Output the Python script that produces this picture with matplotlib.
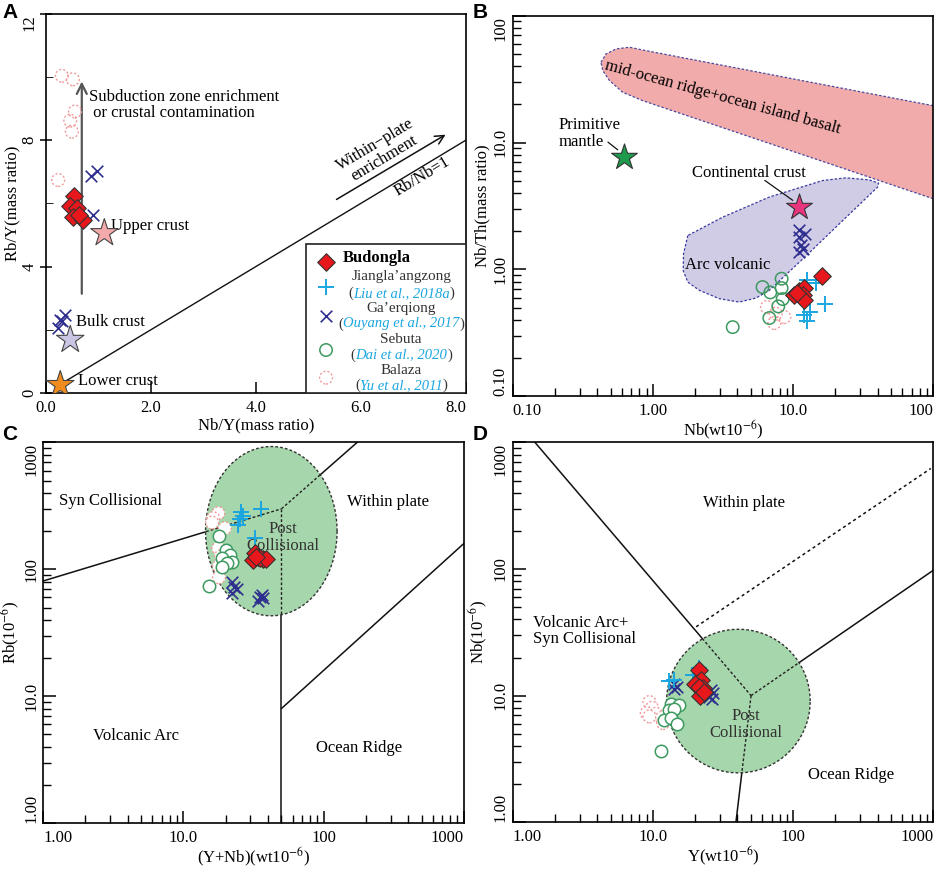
import matplotlib
matplotlib.use('Agg')
import matplotlib.pyplot as plt
from matplotlib.patches import Polygon, Rectangle
from matplotlib.ticker import NullFormatter
import numpy as np

plt.rcParams['font.family'] = 'Liberation Serif'
plt.rcParams['mathtext.fontset'] = 'stix'
plt.rcParams['axes.linewidth'] = 1.2

RED = '#e8171b'
CYAN = '#1aa6e0'
NAVY = '#2e2e8f'
GREEN = '#3d9960'
PINK = '#f09a9a'
FS = 12
TS = 12

# ---- A: Nb/Y vs Rb/Y
a_bud_x = [0.54, 0.46, 0.58, 0.51, 0.71, 0.63]
a_bud_y = [6.22, 5.92, 5.85, 5.56, 5.46, 5.64]
a_gae_x = [0.86, 0.97, 0.90, 0.23, 0.30, 0.36, 0.27]
a_gae_y = [6.87, 7.01, 5.64, 2.05, 2.26, 2.47, 2.31]
a_bal_x = [0.30, 0.51, 0.55, 0.46, 0.49, 0.23]
a_bal_y = [10.04, 9.93, 8.91, 8.62, 8.27, 6.74]
a_star_x = [1.11, 0.46, 0.27]
a_star_y = [5.06, 1.68, 0.25]
a_star_colors = ['#f4a9ab', '#c9c5e2', '#f08c1e']
a_rbnb_x = [0.25, 8.0]
a_rbnb_y = [0.25, 8.0]

# ---- B: Nb vs Nb/Th
b_bud_x = [16.0, 10.2, 11.0, 12.0, 11.7, 12.0, 10.7]
b_bud_y = [0.88, 0.624, 0.675, 0.717, 0.624, 0.570, 0.651]
b_jia_x = [12.6, 14.5, 16.9, 12.0, 13.2, 12.6]
b_jia_y = [0.829, 0.780, 0.537, 0.434, 0.462, 0.392]
b_gae_x = [11.0, 12.2, 11.0, 11.4, 11.0, 11.8]
b_gae_y = [2.03, 1.91, 1.80, 1.55, 1.37, 1.45]
b_seb_x = [6.04, 6.86, 8.26, 8.26, 8.40, 7.82, 6.75, 3.70]
b_seb_y = [0.726, 0.659, 0.845, 0.713, 0.584, 0.511, 0.414, 0.351]
b_bal_x = [6.49, 8.63, 7.33, 7.5]
b_bal_y = [0.505, 0.421, 0.378, 0.448]
b_pm = (0.625, 7.67)
b_cc = (11.0, 3.10)
b_morb_x = [0.425, 0.462, 0.545, 0.677, 0.891, 100, 100, 0.843, 0.608, 0.489, 0.438]
b_morb_y = [42.9, 49.9, 54.7, 56.4, 53.0, 19.5, 3.6, 21.4, 24.9, 30.8, 36.9]
b_arc_x = [1.77, 1.65, 1.64, 1.77, 2.14, 2.97, 4.12, 5.42, 6.75, 11.7, 20.1, 39.9,
           40.6, 34.8, 23.7, 16.2, 6.75, 3.13]
b_arc_y = [1.85, 1.33, 0.98, 0.794, 0.684, 0.588, 0.553, 0.595, 0.684, 1.21, 2.15, 4.45,
           4.79, 5.08, 5.27, 5.02, 3.72, 2.58]

# ---- C: (Y+Nb) vs Rb
c_bud_x = [32.2, 34.0, 37.0, 31.4, 35.0, 39.0, 32.8]
c_bud_y = [134, 126, 120, 118.6, 122, 120, 124]
c_jia_x = [25.9, 26.6, 25.5, 24.5, 36.0, 32.2]
c_jia_y = [285, 261, 248, 224, 298, 176]
c_gae_x = [22.2, 24.1, 22.0, 23.0, 35.0, 37.0, 34.0, 36.3]
c_gae_y = [80, 69.5, 64.6, 73, 60.8, 59.0, 56.6, 62.7]
c_seb_x = [17.9, 20.0, 21.4, 18.7, 22.2, 20.5, 18.9, 15.2]
c_seb_y = [183, 142, 130, 122, 115, 112, 105, 73.9]
c_bal_x = [17.7, 16.3, 16.0, 19.7, 17.7, 18.5, 17.9, 17.9]
c_bal_y = [277, 253, 234, 211, 146.5, 127, 106, 86.5]
c_lines = [([1, 50], [81, 300]), ([50, 173], [300, 1000]),
           ([50, 50], [300, 1]), ([50, 1000], [8, 160])]
c_post = (42.3, 200, 0.469, 0.667)   # centre x, centre y, half-widths in decades

# ---- D: Y vs Nb
d_bud_x = [21.4, 22.0, 20.0, 22.6, 21.6, 21.2, 23.2]
d_bud_y = [15.8, 13.2, 12.4, 11.5, 10.0, 11.8, 10.7]
d_jia_x = [13.1, 14.2, 21.2, 19.4]
d_jia_y = [13.0, 13.2, 16.6, 14.5]
d_gae_x = [14.0, 14.7, 14.2, 25.9, 26.6, 25.2, 26.3]
d_gae_y = [12.4, 11.7, 11.3, 11.1, 10.4, 9.75, 9.45]
d_seb_x = [13.4, 15.2, 12.9, 14.0, 12.0, 13.4, 14.8, 11.4]
d_seb_y = [8.53, 8.37, 7.73, 7.87, 6.45, 6.69, 6.0, 3.64]
d_bal_x = [9.42, 9.84, 9.02, 10.5, 9.42, 11.6, 11.8]
d_bal_y = [8.9, 8.02, 7.28, 7.19, 6.85, 6.69, 6.07]
d_lines = [([1.44, 50], [1000, 10]), ([50, 39], [10, 1]), ([50, 1000], [10, 98])]
d_dotted = ([20.3, 957], [35, 623])
d_post = (40.6, 9.06, 0.512, 0.567)


def draw_samples(ax, bud=None, jia=None, gae=None, seb=None, bal=None, face='none'):
    h = {}
    if bal:
        h['bal'] = ax.scatter(bal[0], bal[1], s=85, marker='o', facecolors=face,
                              edgecolors=PINK, linewidths=1.0, linestyles=(0, (1.5, 1.5)), zorder=5)
    if seb:
        h['seb'] = ax.scatter(seb[0], seb[1], s=80, marker='o', facecolors=face,
                              edgecolors=GREEN, linewidths=1.1, zorder=5)
    if gae:
        h['gae'] = ax.scatter(gae[0], gae[1], s=70, marker='x', color=NAVY, linewidths=1.2, zorder=6)
    if jia:
        h['jia'] = ax.scatter(jia[0], jia[1], s=120, marker='+', color=CYAN, linewidths=1.4, zorder=6)
    if bud:
        h['bud'] = ax.scatter(bud[0], bud[1], s=80, marker='D', facecolors=RED,
                              edgecolors='#333333', linewidths=0.8, zorder=7)
    return h


def log_axes(ax, ticks, labels):
    ax.set_xscale('log')
    ax.set_yscale('log')
    ax.set_xlim(ticks[0], ticks[-1])
    ax.set_ylim(ticks[0], ticks[-1])
    ax.set_xticks(ticks)
    xl = ax.set_xticklabels(labels)
    xl[0].set_ha('left')
    xl[-1].set_ha('right')
    ax.set_yticks(ticks)
    yl = ax.set_yticklabels(labels, rotation=90, va='center')
    yl[0].set_va('bottom')
    yl[-1].set_va('top')
    ax.xaxis.set_minor_formatter(NullFormatter())
    ax.yaxis.set_minor_formatter(NullFormatter())
    ax.tick_params(which='both', direction='in', top=False, right=False, labelsize=TS)
    ax.tick_params(which='major', length=9, width=1.1)
    ax.tick_params(which='minor', length=6, width=1.0)
    ax.tick_params(axis='x', which='major', pad=5)
    ax.tick_params(axis='y', which='major', pad=3)


def log_ellipse(ax, cx, cy, hx, hy):
    t = np.linspace(0, 2 * np.pi, 300)
    pts = np.column_stack([cx * 10 ** (hx * np.cos(t)), cy * 10 ** (hy * np.sin(t))])
    p = Polygon(pts, closed=True, facecolor='#a6d6ab', edgecolor='#333333',
                lw=1.0, linestyle=(0, (2, 1.5)), zorder=2)
    ax.add_patch(p)
    return p


fig = plt.figure(figsize=(9.41, 8.71), dpi=100)
axA = fig.add_axes([0.049, 0.549, 0.446, 0.435])
axB = fig.add_axes([0.545, 0.545, 0.447, 0.437])
axC = fig.add_axes([0.046, 0.055, 0.447, 0.437])
axD = fig.add_axes([0.545, 0.056, 0.447, 0.436])

# ================= A
ax = axA
ax.set_xlim(0, 8)
ax.set_ylim(0, 12)
ax.set_xticks([0, 2, 4, 6, 8])
xl = ax.set_xticklabels(['0.0', '2.0', '4.0', '6.0', '8.0'])
xl[-1].set_ha('right')
ax.set_yticks([0, 4, 8, 12])
yl = ax.set_yticklabels(['0', '4', '8', '12'], rotation=90, va='center')
yl[-1].set_va('top')
ax.set_yticks([2, 6, 10], minor=True)
ax.tick_params(which='both', top=False, right=False, labelsize=TS)
ax.tick_params(axis='y', which='major', direction='inout', length=8, width=1.1, pad=2)
ax.tick_params(axis='y', which='minor', direction='in', length=5)
ax.tick_params(axis='x', direction='in', length=8, width=1.1, pad=5)
ax.set_xlabel('Nb/Y(mass ratio)', fontsize=FS, labelpad=1)
ax.set_ylabel('Rb/Y(mass ratio)', fontsize=FS, labelpad=1)

ax.plot(a_rbnb_x, a_rbnb_y, color='#111111', lw=1.0, zorder=2)
ax.annotate('', xy=(0.68, 9.95), xytext=(0.68, 3.05),
            arrowprops=dict(arrowstyle='->', color='#555555', lw=1.6, mutation_scale=18), zorder=3)
ax.text(0.82, 9.1, 'Subduction zone enrichment\n or crustal contamination', fontsize=FS,
        va='center', ha='left', linespacing=1.0)
ax.annotate('', xy=(7.66, 8.22), xytext=(5.49, 6.08),
            arrowprops=dict(arrowstyle='->', color='#111111', lw=1.1, mutation_scale=16))
ax.text(6.36, 7.64, 'Within\u2212plate\nenrichment', fontsize=FS, rotation=31,
        rotation_mode='anchor', ha='center', va='center', linespacing=1.0)
ax.text(7.16, 6.85, 'Rb/Nb=1', fontsize=FS, rotation=31, rotation_mode='anchor',
        ha='center', va='center')

ax.scatter(a_star_x, a_star_y, s=430, marker='*', c=a_star_colors, edgecolors='#444444',
           linewidths=0.8, zorder=4)
ax.text(1.24, 5.27, 'Upper crust', fontsize=FS, va='center')
ax.text(0.57, 2.23, 'Bulk crust', fontsize=FS, va='center')
ax.text(0.60, 0.38, 'Lower crust', fontsize=FS, va='center')
draw_samples(ax, bud=(a_bud_x, a_bud_y), gae=(a_gae_x, a_gae_y), bal=(a_bal_x, a_bal_y))

# legend built by hand (mixed colours in one entry)
ax.add_patch(Rectangle((0.619, 0), 0.381, 0.392, transform=ax.transAxes, facecolor='white',
                       edgecolor='#222222', lw=1.2, zorder=8))
leg_names = ['Budongla', 'Jiangla\u2019angzong', 'Ga\u2019erqiong', 'Sebuta', 'Balaza']
leg_refs = [None, 'Liu et al., 2018a', 'Ouyang et al., 2017', 'Dai et al., 2020', 'Yu et al., 2011']
leg_marker_y = [0.346, 0.280, 0.203, 0.113, 0.040]
leg_name_y = [0.356, 0.306, 0.222, 0.140, 0.058]
leg_ref_y = [None, 0.262, 0.182, 0.100, 0.019]
leg_styles = [dict(marker='D', s=80, facecolors=RED, edgecolors='#333333', linewidths=0.8),
              dict(marker='+', s=120, color=CYAN, linewidths=1.4),
              dict(marker='x', s=70, color=NAVY, linewidths=1.2),
              dict(marker='o', s=80, facecolors='none', edgecolors=GREEN, linewidths=1.1),
              dict(marker='o', s=85, facecolors='none', edgecolors=PINK, linewidths=1.0,
                   linestyles=(0, (1.5, 1.5)))]
LS = 11
RS = 10.5
for name, ref, my, ny, ry, st in zip(leg_names, leg_refs, leg_marker_y, leg_name_y, leg_ref_y, leg_styles):
    ax.scatter([0.667], [my], transform=ax.transAxes, zorder=9, clip_on=False, **st)
    if ref is None:
        ax.text(0.707, ny, name, transform=ax.transAxes, fontsize=FS, fontweight='bold',
                va='center', ha='left', zorder=9)
        continue
    ax.text(0.846, ny, name, transform=ax.transAxes, fontsize=LS, color='#333333',
            va='center', ha='center', zorder=9)
    t = ax.text(0.846, ry, ref, transform=ax.transAxes, fontsize=RS, color=CYAN,
                style='italic', va='center', ha='center', zorder=9)
    ax.annotate('(', xy=(0, 0.5), xycoords=t, ha='right', va='center', fontsize=RS,
                color='#333333', zorder=9)
    ax.annotate(')', xy=(1, 0.5), xycoords=t, ha='left', va='center', fontsize=RS,
                color='#333333', zorder=9)

# ================= B
ax = axB
log_axes(ax, [0.1, 1, 10, 100], ['0.10', '1.00', '10.0', '100'])
ax.set_xlabel(r'Nb(wt10$^{-6}$)', fontsize=FS, labelpad=0)
ax.set_ylabel('Nb/Th(mass ratio)', fontsize=FS, labelpad=2)
ax.add_patch(Polygon(np.column_stack([b_morb_x, b_morb_y]), closed=True, facecolor='#f2abab',
                     edgecolor='#4a4aa0', lw=0.9, linestyle=(0, (2, 1.5)), zorder=1))
ax.add_patch(Polygon(np.column_stack([b_arc_x, b_arc_y]), closed=True, facecolor='#d0cce6',
                     edgecolor='#3a3a9e', lw=0.9, linestyle=(0, (2, 1.5)), zorder=1))
ax.text(3.13, 22.8, 'mid-ocean ridge+ocean island basalt', fontsize=FS, rotation=-15.3,
        rotation_mode='anchor', ha='center', va='center')
ax.text(3.40, 1.075, 'Arc volcanic', fontsize=FS, ha='center', va='center')
ax.scatter([b_pm[0]], [b_pm[1]], s=380, marker='*', color='#1e9a4c', edgecolors='#333333',
           linewidths=0.8, zorder=4)
ax.scatter([b_cc[0]], [b_cc[1]], s=380, marker='*', color='#e8357e', edgecolors='#333333',
           linewidths=0.8, zorder=4)
ax.text(0.213, 11.8, 'Primitive\nmantle', fontsize=FS, ha='left', va='center', linespacing=1.05)
ax.annotate('', xy=(0.58, 8.5), xytext=(0.46, 10.4),
            arrowprops=dict(arrowstyle='-', color='#111111', lw=0.9))
ax.text(4.81, 5.74, 'Continental crust', fontsize=FS, ha='center', va='center')
ax.annotate('', xy=(10.3, 3.4), xytext=(6.04, 5.18),
            arrowprops=dict(arrowstyle='-', color='#111111', lw=0.9))
draw_samples(ax, bud=(b_bud_x, b_bud_y), jia=(b_jia_x, b_jia_y), gae=(b_gae_x, b_gae_y),
             seb=(b_seb_x, b_seb_y), bal=(b_bal_x, b_bal_y))

# ================= C
ax = axC
log_axes(ax, [1, 10, 100, 1000], ['1.00', '10.0', '100', '1000'])
ax.set_xlabel(r'(Y+Nb)(wt10$^{-6}$)', fontsize=FS, labelpad=0)
ax.set_ylabel(r'Rb(10$^{-6}$)', fontsize=FS, labelpad=1)
ell = log_ellipse(ax, *c_post)
for lx, ly in c_lines:
    ax.plot(lx, ly, color='#111111', lw=1.1, zorder=1)
    ln, = ax.plot(lx, ly, color='#222222', lw=1.0, linestyle=(0, (2, 1.5)), zorder=3)
    ln.set_clip_path(ell)
ax.text(1.30, 346, 'Syn Collisional', fontsize=FS, ha='left', va='center')
ax.text(287, 342, 'Within plate', fontsize=FS, ha='center', va='center')
ax.text(50.8, 177, 'Post\nCollisional', fontsize=FS, ha='center', va='center', color='#333333',
        linespacing=1.1, zorder=4)
ax.text(4.62, 4.83, 'Volcanic Arc', fontsize=FS, ha='center', va='center')
ax.text(178.5, 3.91, 'Ocean Ridge', fontsize=FS, ha='center', va='center')
draw_samples(ax, bud=(c_bud_x, c_bud_y), jia=(c_jia_x, c_jia_y), gae=(c_gae_x, c_gae_y),
             seb=(c_seb_x, c_seb_y), bal=(c_bal_x, c_bal_y), face='white')

# ================= D
ax = axD
log_axes(ax, [1, 10, 100, 1000], ['1.00', '10.0', '100', '1000'])
ax.set_xlabel(r'Y(wt10$^{-6}$)', fontsize=FS, labelpad=0)
ax.set_ylabel(r'Nb(10$^{-6}$)', fontsize=FS, labelpad=2)
ell = log_ellipse(ax, *d_post)
for lx, ly in d_lines:
    ax.plot(lx, ly, color='#111111', lw=1.1, zorder=1)
    ln, = ax.plot(lx, ly, color='#222222', lw=1.0, linestyle=(0, (2, 1.5)), zorder=3)
    ln.set_clip_path(ell)
ax.plot(d_dotted[0], d_dotted[1], color='#111111', lw=1.1, linestyle=(0, (2, 2)), zorder=1)
ax.text(44.8, 334, 'Within plate', fontsize=FS, ha='center', va='center')
ax.text(1.40, 32.4, 'Volcanic Arc+\nSyn Collisional', fontsize=FS, ha='left', va='center',
        linespacing=1.05)
ax.text(46.0, 5.92, 'Post\nCollisional', fontsize=FS, ha='center', va='center', color='#333333',
        linespacing=1.1, zorder=4)
ax.text(257.6, 2.37, 'Ocean Ridge', fontsize=FS, ha='center', va='center')
draw_samples(ax, bud=(d_bud_x, d_bud_y), jia=(d_jia_x, d_jia_y), gae=(d_gae_x, d_gae_y),
             seb=(d_seb_x, d_seb_y), bal=(d_bal_x, d_bal_y), face='white')

for letter, x, y in [('A', 0.003, 0.997), ('B', 0.502, 0.997), ('C', 0.002, 0.512), ('D', 0.502, 0.512)]:
    fig.text(x, y, letter, fontsize=15, fontweight='bold', family='Liberation Sans',
             ha='left', va='top')

plt.savefig('out.png', dpi=100)
plt.close()
